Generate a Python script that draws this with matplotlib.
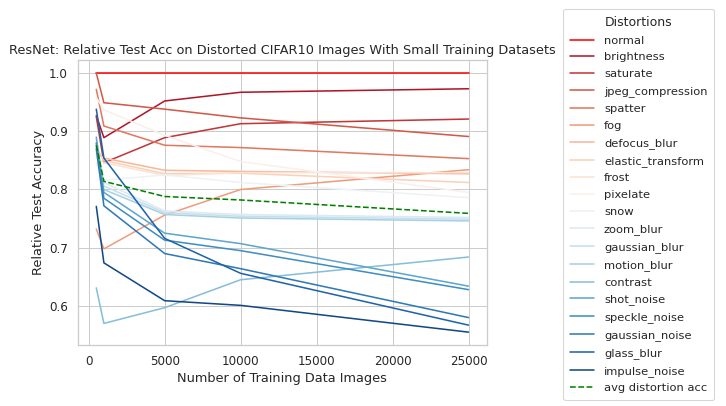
import numpy as np
import matplotlib
matplotlib.use("Agg")
import matplotlib.pyplot as plt
import seaborn as sns

sns.set_theme(style="whitegrid", context="notebook")
plt.rcParams['font.family'] = ['DejaVu Sans']

n_train = [500, 1000, 5000, 10000, 25000]

normal = [1.0, 1.0, 1.0, 1.0, 1.0]
brightness = [0.927, 0.889, 0.952, 0.967, 0.973]
saturate = [0.925, 0.846, 0.889, 0.913, 0.921]
jpeg_compression = [1.0, 0.949, 0.938, 0.923, 0.891]
spatter = [0.972, 0.909, 0.876, 0.872, 0.853]
fog = [0.732, 0.698, 0.756, 0.800, 0.834]
defocus_blur = [0.862, 0.854, 0.833, 0.831, 0.827]
elastic_transform = [0.872, 0.850, 0.827, 0.828, 0.812]
frost = [0.855, 0.846, 0.824, 0.829, 0.829]
pixelate = [0.958, 0.937, 0.893, 0.848, 0.795]
snow = [0.845, 0.816, 0.825, 0.812, 0.786]
zoom_blur = [0.885, 0.812, 0.763, 0.757, 0.752]
gaussian_blur = [0.880, 0.806, 0.760, 0.754, 0.749]
motion_blur = [0.875, 0.800, 0.757, 0.751, 0.746]
contrast = [0.631, 0.570, 0.597, 0.645, 0.684]
shot_noise = [0.890, 0.795, 0.725, 0.707, 0.634]
speckle_noise = [0.880, 0.785, 0.713, 0.695, 0.628]
gaussian_noise = [0.870, 0.772, 0.690, 0.664, 0.580]
glass_blur = [0.938, 0.854, 0.716, 0.656, 0.567]
impulse_noise = [0.771, 0.674, 0.609, 0.601, 0.555]
avg_acc = [0.876, 0.814, 0.788, 0.782, 0.759]

names = ["brightness", "saturate", "jpeg_compression", "spatter", "fog",
         "defocus_blur", "elastic_transform", "frost", "pixelate",
         "snow", "zoom_blur", "gaussian_blur", "motion_blur", "contrast",
         "shot_noise", "speckle_noise", "gaussian_noise", "glass_blur", "impulse_noise"]
vals = [brightness, saturate, jpeg_compression, spatter, fog,
        defocus_blur, elastic_transform, frost, pixelate,
        snow, zoom_blur, gaussian_blur, motion_blur, contrast,
        shot_noise, speckle_noise, gaussian_noise, glass_blur, impulse_noise]

colors = sns.color_palette("RdBu", len(names) + 1)[1:]

dpi = 75
fig = plt.figure(figsize=(726 / dpi, 406 / dpi), dpi=dpi)
ax = fig.add_axes([0.107, 0.150, 0.564, 0.702])

ax.plot(n_train, normal, color="red", label="normal")
for name, v, col in zip(names, vals, colors):
    ax.plot(n_train, v, color=col, label=name)
ax.plot(n_train, avg_acc, color="green", linestyle="--", label="avg distortion acc")

ax.set_title("ResNet: Relative Test Acc on Distorted CIFAR10 Images With Small Training Datasets",
             fontsize=12.4)
ax.set_xlabel("Number of Training Data Images", fontsize=12.4)
ax.set_ylabel("Relative Test Accuracy", fontsize=12.4)
ax.tick_params(labelsize=11.4)
ax.legend(title="Distortions", loc="upper left", bbox_to_anchor=(1.186, 1.18),
          borderaxespad=0, fontsize=11, title_fontsize=12, labelspacing=0.6,
          borderpad=0.6, handlelength=2.1, handletextpad=0.85)

fig.savefig("out.png", dpi=dpi)
